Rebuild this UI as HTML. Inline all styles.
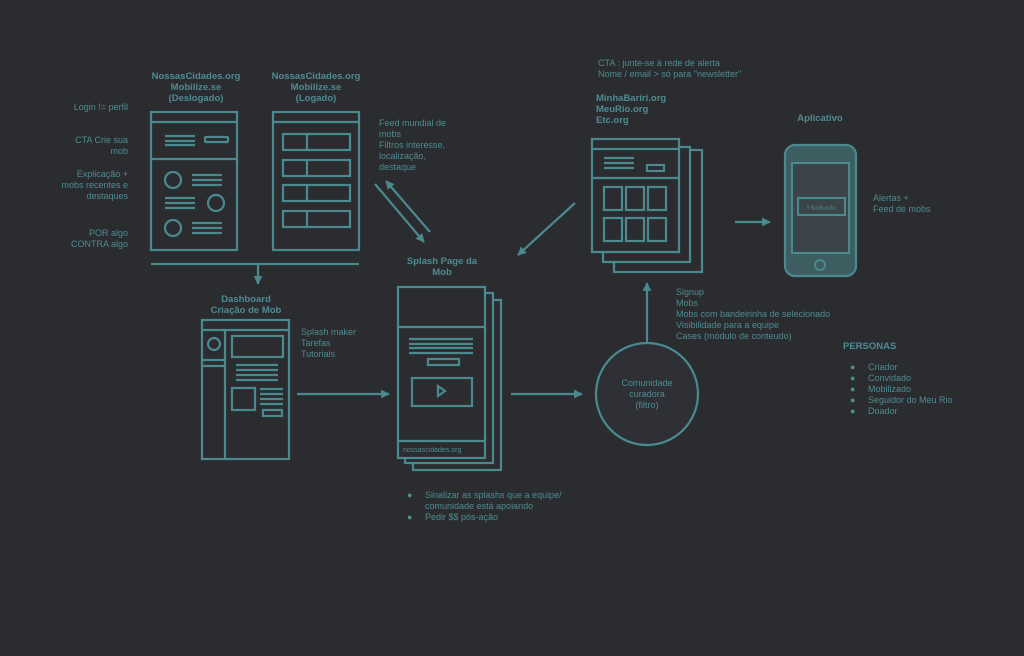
<!DOCTYPE html>
<html><head><meta charset="utf-8"><style>
html,body{margin:0;padding:0;background:#2b2c30;}
svg{display:block;font-family:"Liberation Sans",sans-serif;}
.t{fill:#4d8c91;font-size:9px;}
.b{fill:#4d8c91;font-size:9.5px;font-weight:bold;}
</style></head><body>
<svg width="1024" height="656" viewBox="0 0 1024 656" xmlns="http://www.w3.org/2000/svg">
<defs><marker id="a" viewBox="0 0 10 10" refX="9" refY="5" markerWidth="4" markerHeight="4" orient="auto"><path d="M0,0L10,5L0,10z" fill="#4a8a8f"/></marker></defs>
<rect width="1024" height="656" fill="#2b2c30"/>
<g fill="none" stroke="#4a8a8f" stroke-width="2.2">
<rect x="151" y="112" width="86" height="138"/><line x1="151" y1="122" x2="237" y2="122"/><line x1="151" y1="159" x2="237" y2="159"/>
<path d="M165 136h30M165 141h30M165 145h30"/><rect x="205" y="137" width="23" height="5" rx="1"/>
<circle cx="173" cy="180" r="8"/><path d="M192 175h30M192 180h30M192 185h30"/>
<path d="M165 198h30M165 203h30M165 208h30"/><circle cx="216" cy="203" r="8"/>
<circle cx="173" cy="228" r="8"/><path d="M192 223h30M192 228h30M192 233h30"/>
<rect x="273" y="112" width="86" height="138"/><line x1="273" y1="122" x2="359" y2="122"/>
<rect x="283" y="134" width="67" height="16"/><line x1="307" y1="134" x2="307" y2="150"/>
<rect x="283" y="160" width="67" height="16"/><line x1="307" y1="160" x2="307" y2="176"/>
<rect x="283" y="185" width="67" height="16"/><line x1="307" y1="185" x2="307" y2="201"/>
<rect x="283" y="211" width="67" height="16"/><line x1="307" y1="211" x2="307" y2="227"/>
<line x1="151" y1="264" x2="359" y2="264"/>
<line x1="258" y1="264" x2="258" y2="284" marker-end="url(#a)"/>
<rect x="202" y="320" width="87" height="139"/><line x1="202" y1="330" x2="289" y2="330"/><line x1="225" y1="330" x2="225" y2="459"/>
<circle cx="214" cy="344" r="6"/><path d="M202 360h23M202 366h23"/>
<rect x="232" y="336" width="51" height="21"/><path d="M236 365h42M236 370h42M236 375h42M236 380h42"/>
<rect x="232" y="388" width="23" height="22"/><path d="M260 389h23M260 394h23M260 399h23M260 404h23"/><rect x="263" y="410" width="19" height="6"/>
<line x1="297" y1="394" x2="389" y2="394" marker-end="url(#a)"/>
<rect x="413" y="300" width="88" height="170" fill="#2b2c30"/>
<rect x="405" y="293" width="88" height="170" fill="#2b2c30"/>
<rect x="398" y="287" width="87" height="171" fill="#2b2c30"/>
<line x1="398" y1="327" x2="485" y2="327"/><line x1="398" y1="441" x2="485" y2="441"/>
<path d="M409 339h64M409 344h64M409 348h64M409 353h64"/><rect x="428" y="359" width="31" height="6"/>
<rect x="412" y="378" width="60" height="28"/><path d="M438 386l7 5l-7 5z"/>
<line x1="511" y1="394" x2="582" y2="394" marker-end="url(#a)"/>
<circle cx="647" cy="394" r="51" fill="#2e3035"/>
<line x1="647" y1="343" x2="647" y2="283" marker-end="url(#a)"/>
<rect x="614" y="150" width="88" height="122" fill="#2b2c30"/>
<rect x="603" y="147" width="87" height="115" fill="#2b2c30"/>
<rect x="592" y="139" width="87" height="113" fill="#2b2c30"/>
<line x1="592" y1="149" x2="679" y2="149"/><line x1="592" y1="178" x2="679" y2="178"/>
<path d="M604 158h30M604 163h30M604 168h30"/><rect x="647" y="165" width="17" height="6"/>
<rect x="604" y="187" width="18" height="23"/><rect x="626" y="187" width="18" height="23"/><rect x="648" y="187" width="18" height="23"/>
<rect x="604" y="218" width="18" height="23"/><rect x="626" y="218" width="18" height="23"/><rect x="648" y="218" width="18" height="23"/>
<line x1="735" y1="222" x2="770" y2="222" marker-end="url(#a)"/>
<line x1="375" y1="184" x2="424" y2="242" marker-end="url(#a)"/>
<line x1="430" y1="232" x2="386" y2="181" marker-end="url(#a)"/>
<line x1="575" y1="203" x2="518" y2="255" marker-end="url(#a)"/>
</g>
<rect x="785" y="145" width="71" height="131" rx="10" fill="#3e5d61" stroke="#4a8a8f" stroke-width="2.2"/>
<rect x="792" y="163" width="57" height="90" fill="#3b4549" stroke="#4a8a8f" stroke-width="2"/>
<rect x="798" y="198" width="47" height="17" fill="none" stroke="#4a8a8f" stroke-width="2"/>
<text x="821" y="209.5" text-anchor="middle" style="fill:#4d8c91;font-size:5px">!! Notificação</text>
<circle cx="820" cy="265" r="5" fill="none" stroke="#4a8a8f" stroke-width="2"/>
<g class="b" text-anchor="middle">
<text x="196" y="79">NossasCidades.org</text><text x="196" y="90">Mobilize.se</text><text x="196" y="101">(Deslogado)</text>
<text x="316" y="79">NossasCidades.org</text><text x="316" y="90">Mobilize.se</text><text x="316" y="101">(Logado)</text>
<text x="246" y="302">Dashboard</text><text x="246" y="313">Criação de Mob</text>
<text x="442" y="264">Splash Page da</text><text x="442" y="275">Mob</text>
<text x="820" y="121">Aplicativo</text>
</g>
<g class="b"><text x="596" y="101">MinhaBariri.org</text><text x="596" y="112">MeuRio.org</text><text x="596" y="123">Etc.org</text>
<text x="843" y="349">PERSONAS</text></g>
<g class="t" text-anchor="end">
<text x="128" y="110">Login != perfil</text>
<text x="128" y="143">CTA Crie sua</text><text x="128" y="154">mob</text>
<text x="128" y="177">Explicação +</text><text x="128" y="188">mobs recentes e</text><text x="128" y="199">destaques</text>
<text x="128" y="236">POR algo</text><text x="128" y="247">CONTRA algo</text>
</g>
<g class="t">
<text x="379" y="126">Feed mundial de</text><text x="379" y="137">mobs</text><text x="379" y="148">Filtros interesse,</text><text x="379" y="159">localização,</text><text x="379" y="170">destaque</text>
<text x="598" y="66">CTA : junte-se à rede de alerta</text><text x="598" y="77">Nome / email &gt; só para "newsletter"</text>
<text x="873" y="201">Alertas +</text><text x="873" y="212">Feed de mobs</text>
<text x="301" y="335">Splash maker</text><text x="301" y="346">Tarefas</text><text x="301" y="357">Tutoriais</text>
<text x="676" y="295">Signup</text><text x="676" y="306">Mobs</text><text x="676" y="317">Mobs com bandeirinha de selecionado</text><text x="676" y="328">Visibilidade para a equipe</text><text x="676" y="339">Cases (módulo de conteudo)</text>
<text x="850" y="370">●</text><text x="868" y="370">Criador</text>
<text x="850" y="381">●</text><text x="868" y="381">Convidado</text>
<text x="850" y="392">●</text><text x="868" y="392">Mobilizado</text>
<text x="850" y="403">●</text><text x="868" y="403">Seguidor do Meu Rio</text>
<text x="850" y="414">●</text><text x="868" y="414">Doador</text>
<text x="407" y="498">●</text><text x="425" y="498">Sinalizar as splashs que a equipe/</text><text x="425" y="509">comunidade está apoiando</text>
<text x="407" y="520">●</text><text x="425" y="520">Pedir $$ pós-ação</text>
<text x="403" y="452" style="font-size:7px">nossascidades.org</text>
</g>
<g class="t" text-anchor="middle"><text x="647" y="386">Comunidade</text><text x="647" y="397">curadora</text><text x="647" y="408">(filtro)</text></g>
</svg>
</body></html>
